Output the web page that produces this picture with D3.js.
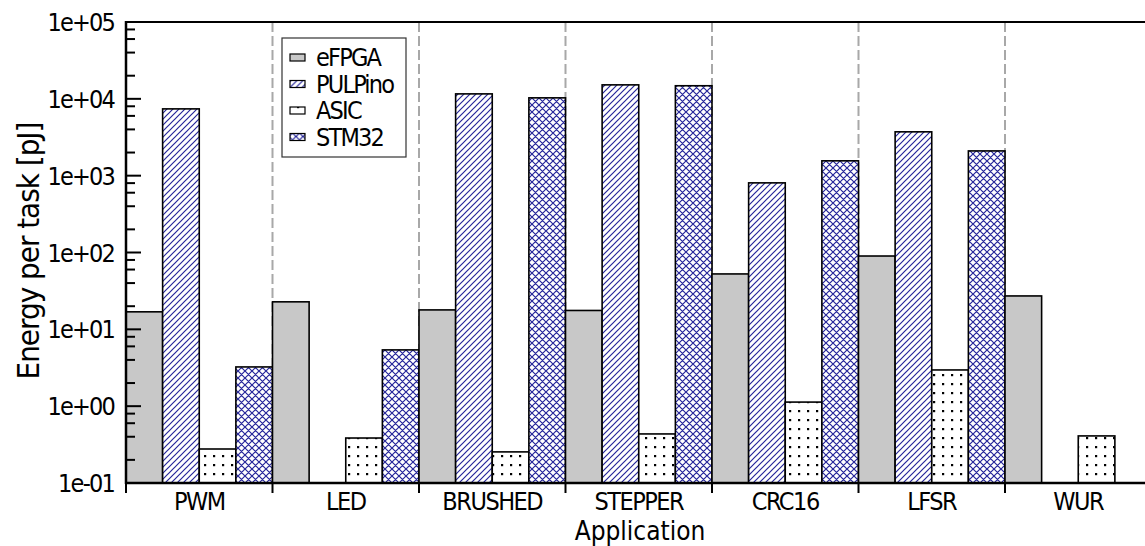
<!DOCTYPE html>
<html>
<head>
<meta charset="utf-8">
<script src="https://cdnjs.cloudflare.com/ajax/libs/d3/7.8.5/d3.min.js"></script>
<style>
  body { margin: 0; background: white; }
  svg text { font-family: "DejaVu Sans Condensed", "DejaVu Sans", sans-serif; font-stretch: condensed; fill: black; }
</style>
</head>
<body>
<div id="vis"></div>
<script>
// data
let apps = ['PWM', 'LED', 'BRUSHED', 'STEPPER', 'CRC16', 'LFSR', 'WUR'];
let seriesNames = ['eFPGA', 'PULPino', 'ASIC', 'STM32'];
let eFPGA   = [16.9, 22.8, 17.9, 17.6, 52.6, 90, 27.2];
let PULPino = [7400, null, 11600, 15200, 806, 3720, null];
let ASIC    = [0.277, 0.385, 0.254, 0.435, 1.13, 2.96, 0.41];
let STM32   = [3.24, 5.4, 10300, 14800, 1560, 2100, null];
let yTicks = [1e-1, 1e0, 1e1, 1e2, 1e3, 1e4, 1e5];
let yTickLabels = ['1e-01', '1e+00', '1e+01', '1e+02', '1e+03', '1e+04', '1e+05'];

let values = [eFPGA, PULPino, ASIC, STM32];

let W = 1145, H = 546;
let margin = { top: 22, left: 126, bottom: 63 };
let groupW = 146.5;

let svg = d3.select('#vis')
  .append('svg')
  .attr('width', W)
  .attr('height', H);

// patterns
let defs = svg.append('defs');
let hatch = defs.append('pattern')
  .attr('id', 'hatch')
  .attr('patternUnits', 'userSpaceOnUse')
  .attr('width', 6).attr('height', 6);
hatch.append('rect').attr('width', 6).attr('height', 6).attr('fill', 'white');
hatch.append('path')
  .attr('d', 'M0,6 L6,0 M-1.5,1.5 L1.5,-1.5 M4.5,7.5 L7.5,4.5')
  .attr('stroke', '#25259a').attr('stroke-width', 1.2);

let cross = defs.append('pattern')
  .attr('id', 'cross')
  .attr('patternUnits', 'userSpaceOnUse')
  .attr('width', 7).attr('height', 7);
cross.append('rect').attr('width', 7).attr('height', 7).attr('fill', 'white');
cross.append('path')
  .attr('d', 'M0,7 L7,0 M-1.75,1.75 L1.75,-1.75 M5.25,8.75 L8.75,5.25 M0,0 L7,7 M-1.75,5.25 L1.75,8.75 M5.25,-1.75 L8.75,1.75')
  .attr('stroke', '#25259a').attr('stroke-width', 1.2);

let dots = defs.append('pattern')
  .attr('id', 'dots')
  .attr('patternUnits', 'userSpaceOnUse')
  .attr('width', 9).attr('height', 9)
  .attr('x', 3).attr('y', 2);
dots.append('rect').attr('width', 9).attr('height', 9).attr('fill', 'white');
dots.append('rect').attr('x', 3).attr('y', 3).attr('width', 2.2).attr('height', 2.2).attr('fill', 'black');

let fills = ['#c8c8c8', 'url(#hatch)', 'url(#dots)', 'url(#cross)'];

// scales
let x = d3.scaleBand()
  .domain(apps)
  .range([margin.left, margin.left + groupW * apps.length])
  .padding(0);

let x1 = d3.scaleBand()
  .domain(seriesNames)
  .range([0, x.bandwidth()])
  .padding(0);

let y = d3.scaleLog()
  .domain([1e-1, 1e5])
  .range([H - margin.bottom, margin.top]);

let y0 = H - margin.bottom;

// dashed group separators
svg.append('g')
  .selectAll('line')
  .data(apps.slice(1))
  .join('line')
  .attr('x1', d => x(d)).attr('x2', d => x(d))
  .attr('y1', margin.top).attr('y2', y0)
  .attr('stroke', '#a8a8a8')
  .attr('stroke-width', 2)
  .attr('stroke-dasharray', '10,4');

// bars
let barData = [];
apps.forEach((a, i) => {
  seriesNames.forEach((s, j) => {
    if (values[j][i] != null) barData.push({ app: a, s: s, j: j, v: values[j][i] });
  });
});

svg.append('g')
  .selectAll('rect')
  .data(barData)
  .join('rect')
  .attr('x', d => x(d.app) + x1(d.s))
  .attr('y', d => y(d.v))
  .attr('width', x1.bandwidth())
  .attr('height', d => y0 - y(d.v))
  .attr('fill', d => fills[d.j])
  .attr('stroke', 'black')
  .attr('stroke-width', 1.6);

// top border
svg.append('line')
  .attr('x1', margin.left).attr('x2', W)
  .attr('y1', margin.top).attr('y2', margin.top)
  .attr('stroke', 'black').attr('stroke-width', 2);

// y axis, ticks pointing inwards
let minor = [];
for (let e = -1; e < 5; e++) {
  [2, 4, 6, 8].forEach(m => minor.push(m * Math.pow(10, e)));
}
let yAxis = svg.append('g')
  .attr('transform', `translate(${margin.left},0)`);
yAxis.append('line')
  .attr('x1', 0).attr('x2', 0)
  .attr('y1', margin.top - 1).attr('y2', y0 + 1)
  .attr('stroke', 'black').attr('stroke-width', 2.5);
yAxis.selectAll('.major')
  .data(yTicks)
  .join('line')
  .attr('class', 'major')
  .attr('x1', 0).attr('x2', 15)
  .attr('y1', d => y(d)).attr('y2', d => y(d))
  .attr('stroke', 'black').attr('stroke-width', 2);
yAxis.selectAll('.minor')
  .data(minor)
  .join('line')
  .attr('class', 'minor')
  .attr('x1', 0).attr('x2', 9)
  .attr('y1', d => y(d)).attr('y2', d => y(d))
  .attr('stroke', 'black').attr('stroke-width', 2);
yAxis.selectAll('text')
  .data(yTicks)
  .join('text')
  .attr('x', -12)
  .attr('y', d => y(d))
  .attr('dy', '0.36em')
  .attr('text-anchor', 'end')
  .attr('font-size', 25)
  .attr('letter-spacing', -1.8)
  .text((d, i) => yTickLabels[i]);

// x axis
let xAxis = svg.append('g');
xAxis.append('line')
  .attr('x1', margin.left - 1).attr('x2', W)
  .attr('y1', y0).attr('y2', y0)
  .attr('stroke', 'black').attr('stroke-width', 2.5);
xAxis.selectAll('.tick')
  .data(apps)
  .join('line')
  .attr('class', 'tick')
  .attr('x1', d => x(d)).attr('x2', d => x(d))
  .attr('y1', y0).attr('y2', y0 + 10)
  .attr('stroke', 'black').attr('stroke-width', 2);
xAxis.selectAll('text')
  .data(apps)
  .join('text')
  .attr('x', d => x(d) + x.bandwidth() / 2)
  .attr('y', y0 + 27)
  .attr('text-anchor', 'middle')
  .attr('font-size', 25)
  .attr('letter-spacing', -1.5)
  .text(d => d);

// axis titles
svg.append('text')
  .attr('x', 640)
  .attr('y', 540)
  .attr('text-anchor', 'middle')
  .attr('font-size', 26)
  .text('Application');

svg.append('text')
  .attr('transform', 'translate(39,251) rotate(-90)')
  .attr('text-anchor', 'middle')
  .attr('font-size', 31)
  .attr('letter-spacing', -1)
  .text('Energy per task [pJ]');

// legend
let legend = svg.append('g').attr('transform', 'translate(282,38)');
legend.append('rect')
  .attr('width', 124).attr('height', 119)
  .attr('fill', 'white')
  .attr('stroke', '#333').attr('stroke-width', 1.2);
let items = legend.selectAll('.item')
  .data(seriesNames)
  .join('g')
  .attr('class', 'item')
  .attr('transform', (d, i) => `translate(0,${19 + i * 26.5})`);
items.append('rect')
  .attr('x', 8).attr('y', -3)
  .attr('width', 15).attr('height', 7)
  .attr('fill', (d, i) => fills[i])
  .attr('stroke', 'black').attr('stroke-width', 1.2);
items.append('text')
  .attr('x', 34)
  .attr('y', 0)
  .attr('dy', '0.36em')
  .attr('font-size', 25)
  .attr('letter-spacing', -1.8)
  .text(d => d);
</script>
</body>
</html>
